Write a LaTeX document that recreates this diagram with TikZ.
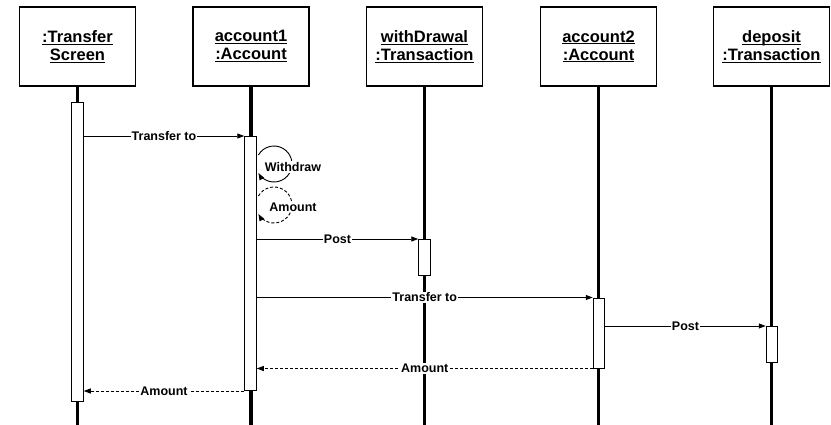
\documentclass[tikz,border=0pt]{standalone}
\usepackage{fontspec}
\setmainfont{Liberation Sans}
\usetikzlibrary{arrows.meta,calc}
% underline at a fixed depth below the baseline
\newcommand\ulbox[1]{\setbox0\hbox{#1}\rlap{\rule[-2.4pt]{\wd0}{1.1pt}}\box0}

\begin{document}
\begin{tikzpicture}[x=1pt,y=-1pt,
  obj/.style={draw, line width=1.2pt, fill=white, minimum width=116pt,
    minimum height=79pt, align=center, inner sep=0pt,
    font=\fontsize{16.5}{18}\selectfont\bfseries},
  life/.style={line width=3.6pt},
  actbar/.style={draw, fill=white, line width=1pt, minimum width=11.5pt,
    inner sep=0pt, anchor=north},
  msg/.style={line width=0.9pt, -{Triangle[length=7pt,width=5pt]}},
  reply/.style={msg, dash pattern=on 3pt off 2pt},
  lbl/.style={fill=white, inner sep=1pt,
    font=\fontsize{12.5}{14}\selectfont\bfseries}]
\useasboundingbox (0,0) rectangle (831,425);
\coordinate (bot) at (0,425);

% objects
\node[obj] (ts) at (77.5,46.5)  {\ulbox{:Transfer}\\\ulbox{Screen}};
\node[obj] (a1) at (251,46.5)   {\ulbox{account1}\\\ulbox{:Account}};
\node[obj] (wd) at (424.5,46.5) {\ulbox{withDrawal}\\\ulbox{:Transaction}};
\node[obj] (a2) at (598.5,46.5) {\ulbox{account2}\\\ulbox{:Account}};
\node[obj] (dp) at (771.5,46.5) {\ulbox{deposit}\\\ulbox{:Transaction}};

% lifelines
\foreach \o in {ts,a1,wd,a2,dp}
  \draw[life] (\o.south) -- (\o.south |- bot);

% activation bars
\node[actbar, minimum height=299pt] (bS)  at (77.5,101.7) {};
\node[actbar, minimum height=254pt] (bA1) at (250.5,136) {};
\node[actbar, minimum height=36pt]  (bW)  at (424.5,239) {};
\node[actbar, minimum height=70pt]  (bA2) at (599,297.5) {};
\node[actbar, minimum height=36pt]  (bD)  at (772,326) {};

% calls
\draw[msg] (bS.east |- bA1.north) -- node[lbl]{Transfer to} (bA1.north west);
\draw[msg] (bA1.east |- bW.north) -- node[lbl]{Post} (bW.north west);
\draw[msg] (bA1.east |- bA2.north) -- node[lbl]{Transfer to} (bA2.north west);
\draw[msg] (bA2.east |- bD.north) -- node[lbl]{Post} (bD.north west);

% returns
\draw[reply] (bA2.south west) -- node[lbl]{Amount} (bA1.east |- bA2.south);
\draw[reply] (bA1.south west) -- node[lbl]{Amount} (bS.east |- bA1.south);

% self calls on account1
\coordinate (wloop) at (274,164);
\coordinate (aloop) at (274,205);
\draw[msg] (wloop) ++(150:18pt) arc[start angle=150, end angle=-150, radius=18pt];
\node[lbl] (wl) at (293,167) {Withdraw};
\draw[reply] (aloop) ++(150:18pt) arc[start angle=150, end angle=-150, radius=18pt];
\node[lbl] (al) at (293,207) {Amount};
\end{tikzpicture}
\end{document}
